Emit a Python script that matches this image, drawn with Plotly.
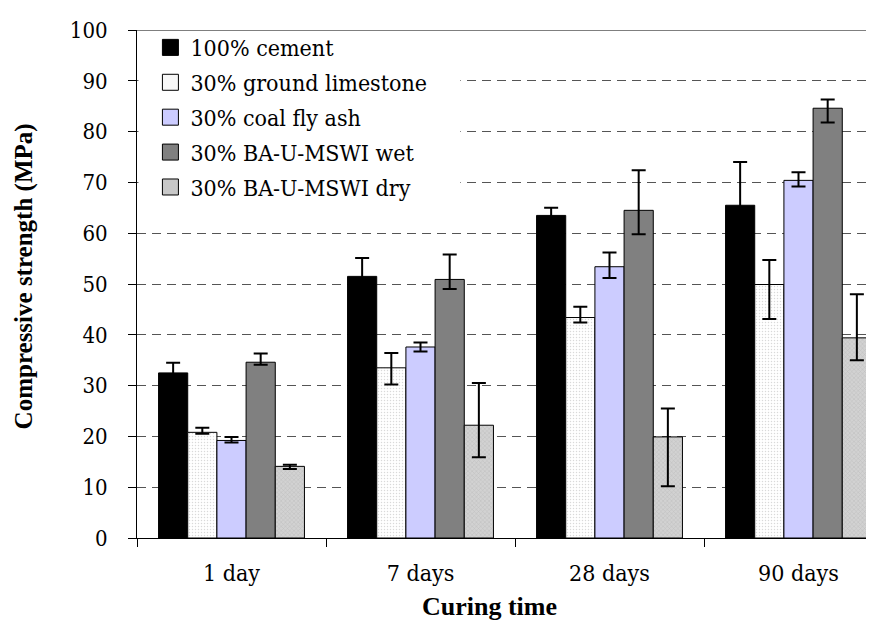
import plotly.graph_objects as go

categories = ["1 day", "7 days", "28 days", "90 days"]

series_names = ["100% cement", "30% ground limestone", "30% coal fly ash",
                "30% BA-U-MSWI wet", "30% BA-U-MSWI dry"]

cement = [32.5, 51.5, 63.5, 65.5]
cement_up = [2.0, 3.6, 1.5, 8.5]
cement_dn = [2.0, 3.6, 1.5, 8.5]

limestone = [20.8, 33.5, 43.4, 49.9]
limestone_up = [0.9, 2.9, 2.1, 4.8]
limestone_dn = [0.3, 3.3, 1.0, 6.8]

flyash = [19.2, 37.6, 53.4, 70.4]
flyash_up = [0.7, 0.9, 2.8, 1.6]
flyash_dn = [0.4, 0.9, 2.2, 1.2]

wet = [34.6, 50.9, 64.5, 84.6]
wet_up = [1.7, 4.9, 7.9, 1.7]
wet_dn = [0.5, 1.9, 4.7, 2.8]

dry = [14.1, 22.2, 19.9, 39.4]
dry_up = [0.3, 8.3, 5.6, 8.6]
dry_dn = [0.5, 6.3, 9.7, 4.4]

y_ticks = list(range(0, 101, 10))

FONT_B = "Liberation Serif"
FONT_R = "DejaVu Serif Condensed, DejaVu Serif"

values = [cement, limestone, flyash, wet, dry]
ups = [cement_up, limestone_up, flyash_up, wet_up, dry_up]
dns = [cement_dn, limestone_dn, flyash_dn, wet_dn, dry_dn]
colors = ["#000000", "#ffffff", "#ccccff", "#808080", "#cccccc"]
legend_colors = ["#000000", "#f7f7f7", "#ccccff", "#808080", "#c8c8c8"]
patterns = [
    None,
    dict(shape=".", fgcolor="#b4b4b4", bgcolor="#ffffff", size=3, solidity=0.2),
    None,
    None,
    dict(shape="x", fgcolor="#a8a8a8", bgcolor="#d2d2d2", size=3, solidity=0.3),
]

fig = go.Figure()
for i, name in enumerate(series_names):
    marker = dict(color=colors[i], line=dict(color="#000000", width=1))
    if patterns[i] is not None:
        marker["pattern"] = patterns[i]
    fig.add_trace(go.Bar(
        x=categories, y=values[i], name=name, marker=marker,
        showlegend=False,
        error_y=dict(type="data", symmetric=False, array=ups[i], arrayminus=dns[i],
                     color="#000000", thickness=2, width=7),
    ))
# legend entries (larger square swatches, like the original legend keys)
for i, name in enumerate(series_names):
    fig.add_trace(go.Scatter(
        x=[None], y=[None], mode="markers", name=name, legendgroup=f"g{i}",
        marker=dict(symbol="square", size=16, color=legend_colors[i],
                    line=dict(color="#000000", width=1)),
        hoverinfo="skip",
    ))

W, H = 874, 620
L, T, B, R = 129, 22, 90, 0
cat_px = 189.0
plot_w = W - L - R
plot_h = H - T - B
x_max = -0.5 + plot_w / cat_px

fig.update_layout(
    width=W, height=H,
    margin=dict(l=L, r=R, t=T, b=B, pad=0),
    paper_bgcolor="white", plot_bgcolor="white",
    barmode="group", bargap=0.228, bargroupgap=0.0,
    font=dict(family=FONT_R, size=22, color="#000000"),
    showlegend=True,
    legend=dict(x=0.018, y=1.008, xanchor="left", yanchor="top",
                bgcolor="rgba(0,0,0,0)", borderwidth=0, itemsizing="trace",
                font=dict(size=23, family=FONT_R),
                traceorder="grouped", tracegroupgap=2),
    xaxis=dict(range=[-0.5, x_max], showline=True, linecolor="#000000", linewidth=1,
               ticks="outside", ticklen=8, tickcolor="#000000", tickson="boundaries",
               showgrid=False, zeroline=False, ticklabelstandoff=14,
               tickfont=dict(size=23, family=FONT_R)),
    yaxis=dict(range=[0, 100], tickvals=y_ticks, showline=True, linecolor="#000000",
               linewidth=1, ticks="outside", ticklen=8, tickcolor="#000000",
               showgrid=True, gridcolor="#555555", gridwidth=1.3, griddash="9px,6px",
               zeroline=False, ticklabelstandoff=16,
               tickfont=dict(size=22, family=FONT_R)),
    shapes=[
        # white legend area hiding the gridlines behind the legend
        dict(type="rect", xref="paper", yref="y", x0=0.002, x1=0.434, y0=63, y1=98.5,
             fillcolor="white", line=dict(width=0), layer="above"),
        # solid top border of the plot area
        dict(type="line", xref="paper", yref="y", x0=0, x1=1, y0=100, y1=100,
             line=dict(color="#000000", width=1), layer="above"),
    ],
    annotations=[
        dict(text="<b>Compressive strength (MPa)</b>", textangle=-90,
             xref="paper", yref="paper", x=(16 - L) / plot_w, y=0.515,
             xanchor="center", yanchor="middle", showarrow=False,
             font=dict(size=25, family=FONT_B)),
        dict(text="<b>Curing time</b>",
             xref="paper", yref="paper", x=(481 - L) / plot_w, y=-(598 - (H - B)) / plot_h,
             xanchor="center", yanchor="middle", showarrow=False,
             font=dict(size=26, family=FONT_B)),
    ],
)

fig.write_html("out.html")
